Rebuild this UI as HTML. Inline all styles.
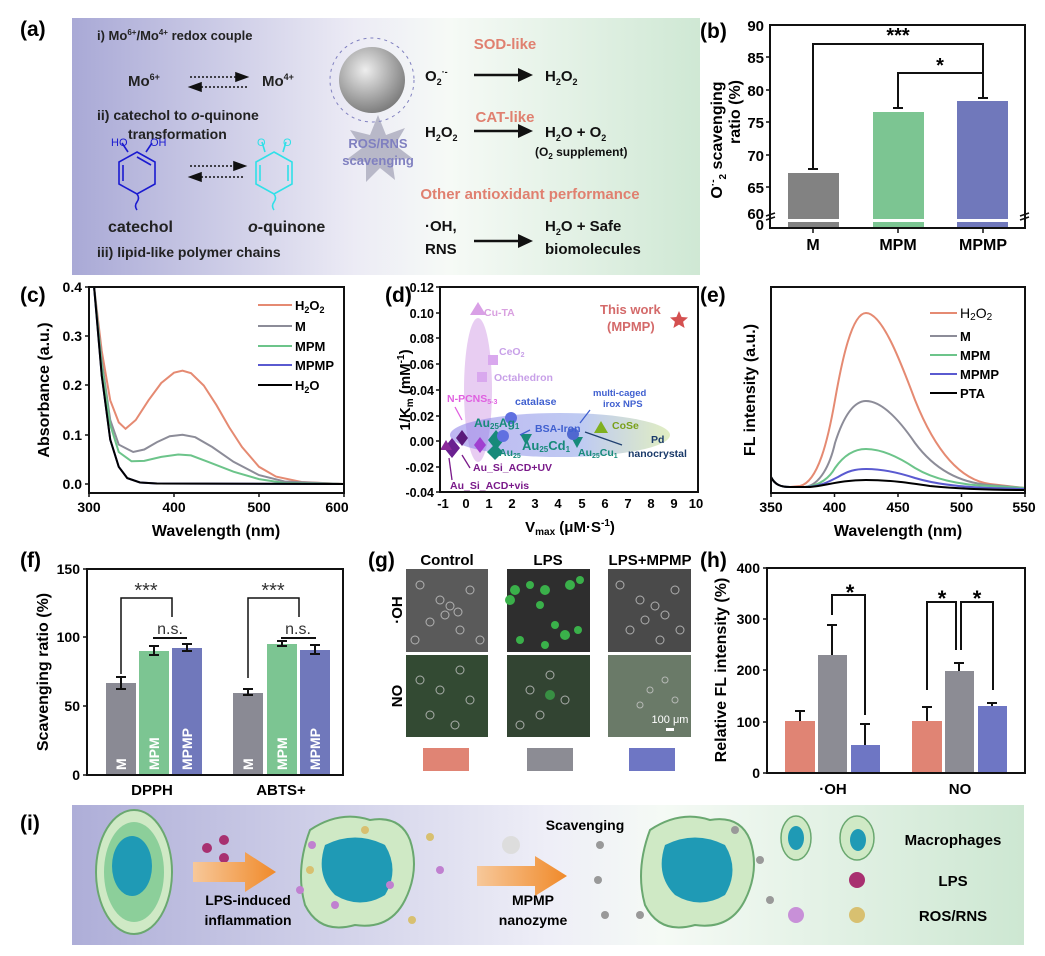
<!DOCTYPE html>
<html><head><meta charset="utf-8"><style>
html,body{margin:0;padding:0;background:#fff;}
svg{display:block;font-family:"Liberation Sans",Arial,sans-serif;}
.b{font-weight:bold;}
</style></head><body>
<svg width="1045" height="956" viewBox="0 0 1045 956" xmlns="http://www.w3.org/2000/svg">
<defs>
<linearGradient id="ga" x1="0" x2="1" y1="0" y2="0">
<stop offset="0" stop-color="#a9a9d6"/><stop offset="0.45" stop-color="#ecebf5"/><stop offset="0.6" stop-color="#f6faf6"/><stop offset="1" stop-color="#cfe8d4"/></linearGradient>
<linearGradient id="gi" x1="0" x2="1" y1="0" y2="0">
<stop offset="0" stop-color="#aeaed8"/><stop offset="0.5" stop-color="#eeeef7"/><stop offset="0.62" stop-color="#f5faf5"/><stop offset="1" stop-color="#cde7d2"/></linearGradient>
<linearGradient id="gd" x1="0" x2="1"><stop offset="0" stop-color="#8a7ae8"/><stop offset="0.6" stop-color="#8aa0e8"/><stop offset="1" stop-color="#c8e090"/></linearGradient>
<radialGradient id="gs" cx="0.4" cy="0.35" r="0.7"><stop offset="0" stop-color="#eee"/><stop offset="1" stop-color="#777"/></radialGradient>
<linearGradient id="gar" x1="0" x2="1"><stop offset="0" stop-color="#f7c89a"/><stop offset="1" stop-color="#f08a2a"/></linearGradient>
</defs>

<!-- panel labels -->
<g class="b" font-size="21">
<text x="20" y="36">(a)</text><text x="700" y="38">(b)</text>
<text x="20" y="302">(c)</text><text x="385" y="302">(d)</text><text x="700" y="302">(e)</text>
<text x="20" y="567">(f)</text><text x="368" y="567">(g)</text><text x="700" y="567">(h)</text>
<text x="20" y="830">(i)</text>
</g>

<!-- (a) -->
<rect x="72" y="18" width="628" height="257" fill="url(#ga)"/>
<g font-size="13" class="b" fill="#222">
<text x="97" y="40">i) Mo<tspan font-size="8" dy="-5">6+</tspan><tspan dy="5">/Mo</tspan><tspan font-size="8" dy="-5">4+</tspan><tspan dy="5"> redox couple</tspan></text>
<text x="128" y="86" font-size="15">Mo<tspan font-size="9" dy="-6">6+</tspan></text>
<text x="262" y="86" font-size="15">Mo<tspan font-size="9" dy="-6">4+</tspan></text>
<text x="97" y="120" font-size="14">ii) catechol to <tspan font-style="italic">o</tspan>-quinone</text>
<text x="128" y="139" font-size="14">transformation</text>
<text x="108" y="232" font-size="16">catechol</text>
<text x="248" y="232" font-size="16"><tspan font-style="italic">o</tspan>-quinone</text>
<text x="97" y="257" font-size="14">iii) lipid-like polymer chains</text>
</g>
<g stroke="#111" stroke-width="1.6" fill="none">
<line x1="190" y1="77" x2="240" y2="77" stroke-dasharray="2,2"/><path d="M236,73 L247,77 L236,81Z" fill="#111"/>
<line x1="197" y1="87" x2="247" y2="87" stroke-dasharray="2,2"/><path d="M201,83 L190,87 L201,91Z" fill="#111"/>
<line x1="190" y1="166" x2="238" y2="166" stroke-dasharray="2,2"/><path d="M234,162 L245,166 L234,170Z" fill="#111"/>
<line x1="197" y1="177" x2="245" y2="177" stroke-dasharray="2,2"/><path d="M201,173 L190,177 L201,181Z" fill="#111"/>
</g>
<g fill="none" stroke="#1a1ad0" stroke-width="1.6">
<polygon points="137,152 155,162 155,184 137,194 119,184 119,162"/>
<line x1="123" y1="165" x2="123" y2="181"/><line x1="137" y1="157" x2="151" y2="165"/>
<line x1="128" y1="152" x2="122" y2="143"/><line x1="146" y1="152" x2="152" y2="143"/>
<path d="M137,194 q3,4 0,8 q-3,4 0,8"/></g>
<text x="111" y="146" font-size="11" fill="#1a1ad0">HO</text><text x="150" y="146" font-size="11" fill="#1a1ad0">OH</text>
<g fill="none" stroke="#30e0e8" stroke-width="1.6">
<polygon points="274,152 292,162 292,184 274,194 256,184 256,162"/>
<line x1="260" y1="165" x2="260" y2="181"/><line x1="288" y1="165" x2="288" y2="181"/>
<line x1="265" y1="152" x2="262" y2="142"/><line x1="283" y1="152" x2="286" y2="142"/>
<path d="M274,194 q3,4 0,8 q-3,4 0,8"/></g>
<text x="257" y="146" font-size="11" fill="#30e0e8">O</text><text x="283" y="146" font-size="11" fill="#30e0e8">O</text>
<polygon points="378,115 386,135 405,128 395,145 412,158 392,160 395,180 380,168 366,182 366,162 346,160 362,148 350,130 370,135" fill="#b8b8c8"/>
<circle cx="372" cy="80" r="42" fill="none" stroke="#8080c0" stroke-width="1" stroke-dasharray="3,4"/>
<circle cx="372" cy="80" r="33" fill="url(#gs)"/>
<text x="378" y="148" font-size="13" class="b" fill="#8080c0" text-anchor="middle">ROS/RNS</text>
<text x="378" y="165" font-size="13" class="b" fill="#8080c0" text-anchor="middle">scavenging</text>
<g class="b" font-size="15" fill="#e08070" text-anchor="middle">
<text x="505" y="49">SOD-like</text><text x="505" y="122">CAT-like</text><text x="530" y="199">Other antioxidant performance</text></g>
<g font-size="15" class="b" fill="#111">
<text x="425" y="81">O<tspan font-size="9" dy="4">2</tspan><tspan font-size="9" dy="-10">·-</tspan></text>
<text x="545" y="81">H<tspan font-size="9" dy="4">2</tspan><tspan dy="-4">O</tspan><tspan font-size="9" dy="4">2</tspan></text>
<text x="425" y="137">H<tspan font-size="9" dy="4">2</tspan><tspan dy="-4">O</tspan><tspan font-size="9" dy="4">2</tspan></text>
<text x="545" y="137">H<tspan font-size="9" dy="4">2</tspan><tspan dy="-4">O + O</tspan><tspan font-size="9" dy="4">2</tspan></text>
<text x="535" y="156" font-size="12">(O<tspan font-size="8" dy="3">2</tspan><tspan dy="-3"> supplement)</tspan></text>
<text x="425" y="231">·OH,</text><text x="425" y="254">RNS</text>
<text x="545" y="231">H<tspan font-size="9" dy="4">2</tspan><tspan dy="-4">O + Safe</tspan></text>
<text x="545" y="254">biomolecules</text></g>
<g stroke="#111" stroke-width="2.5"><line x1="474" y1="75" x2="520" y2="75"/><line x1="474" y1="131" x2="520" y2="131"/><line x1="474" y1="241" x2="520" y2="241"/></g>
<g fill="#111"><path d="M518,68 L533,75 L518,82Z"/><path d="M518,124 L533,131 L518,138Z"/><path d="M518,234 L533,241 L518,248Z"/></g>

<!-- (b) -->
<g>
<rect x="788" y="173" width="51" height="46" fill="#828282"/><rect x="788" y="222" width="51" height="6" fill="#828282"/>
<rect x="873" y="112" width="51" height="107" fill="#7cc592"/><rect x="873" y="222" width="51" height="6" fill="#7cc592"/>
<rect x="957" y="101" width="51" height="118" fill="#7078bb"/><rect x="957" y="222" width="51" height="6" fill="#7078bb"/>
<g stroke="#111" stroke-width="2" fill="none">
<path d="M808,169 h10 M813,169 v-3 M893,108 h10 M898,108 v-2 M978,98 h10 M983,98 v-2"/>
<rect x="770" y="25" width="255" height="203"/>
<path d="M813,166 V44 H983 V96"/><path d="M898,106 V73 H983"/>
</g>
<g stroke="#111" stroke-width="1.5"><line x1="766" y1="57" x2="770" y2="57"/><line x1="766" y1="90" x2="770" y2="90"/><line x1="766" y1="122" x2="770" y2="122"/><line x1="766" y1="155" x2="770" y2="155"/><line x1="766" y1="187" x2="770" y2="187"/>
<line x1="766" y1="216" x2="775" y2="213"/><line x1="766" y1="220" x2="775" y2="217"/><line x1="1020" y1="216" x2="1029" y2="213"/><line x1="1020" y1="220" x2="1029" y2="217"/>
<line x1="813" y1="228" x2="813" y2="233"/><line x1="898" y1="228" x2="898" y2="233"/><line x1="983" y1="228" x2="983" y2="233"/></g>
<g class="b" font-size="15" text-anchor="end"><text x="764" y="31">90</text><text x="764" y="63">85</text><text x="764" y="96">80</text><text x="764" y="128">75</text><text x="764" y="161">70</text><text x="764" y="193">65</text><text x="764" y="219">60</text><text x="764" y="230">0</text></g>
<g class="b" font-size="16" text-anchor="middle"><text x="813" y="250">M</text><text x="898" y="250">MPM</text><text x="983" y="250">MPMP</text>
<text x="898" y="42" font-size="20">***</text><text x="940" y="72" font-size="20">*</text></g>
<text class="b" font-size="16" text-anchor="middle" transform="translate(722,140) rotate(-90)">O<tspan font-size="10" dy="-6">·-</tspan><tspan font-size="10" dy="10">2</tspan><tspan dy="-4"> scavenging</tspan></text>
<text class="b" font-size="16" text-anchor="middle" transform="translate(740,112) rotate(-90)">ratio (%)</text>
</g>

<!-- (c) -->
<g>
<g fill="none" stroke-width="2">
<polyline stroke="#e58a72" points="94.1,287 101.75,351 110.25,400.3 118.75,422.4 125.55,428.8 135.75,420 148.5,400.3 161.25,383 174,372.7 182.5,370.7 191,373.2 203.75,385.5 216.5,405.2 229.25,427.4 242,447 259,466.8 276,476.6 301.5,482 344,484"/>
<polyline stroke="#8c8c98" points="94.1,287 101.75,360.9 110.25,420 118.75,444.6 133.2,452 144.25,449.5 157,442.1 169.75,436.2 182.5,434.75 195.25,437.2 212.25,447 233.5,461.8 259,475.1 284.5,481.5 344,484"/>
<polyline stroke="#6cc48a" points="94.1,287 101.75,365.8 110.25,424.9 118.75,452 131.5,461.3 144.25,460.9 161.25,456.9 178.25,454.5 191,455.4 208,461.8 233.5,471.7 259,479.1 284.5,483 344,484"/>
<polyline stroke="#5a5ad0" points="94.1,287 101.75,375.6 110.25,439.7 118.75,466.8 127.25,478.1 140,482.5 157,483.5 344,484"/>
<polyline stroke="#000" points="94.1,287 101.75,375.6 110.25,439.7 118.75,466.8 127.25,478.1 140,482.5 157,483.5 344,484"/>
</g>
<rect x="89" y="287" width="255" height="206" fill="none" stroke="#111" stroke-width="2"/>
<g stroke="#111" stroke-width="1.5"><line x1="85" y1="287" x2="89" y2="287"/><line x1="85" y1="336" x2="89" y2="336"/><line x1="85" y1="385" x2="89" y2="385"/><line x1="85" y1="435" x2="89" y2="435"/><line x1="85" y1="484" x2="89" y2="484"/>
<line x1="89" y1="493" x2="89" y2="497"/><line x1="174" y1="493" x2="174" y2="497"/><line x1="259" y1="493" x2="259" y2="497"/><line x1="344" y1="493" x2="344" y2="497"/></g>
<g class="b" font-size="14" text-anchor="end"><text x="82" y="292">0.4</text><text x="82" y="341">0.3</text><text x="82" y="390">0.2</text><text x="82" y="440">0.1</text><text x="82" y="489">0.0</text></g>
<g class="b" font-size="14" text-anchor="middle"><text x="89" y="512">300</text><text x="174" y="512">400</text><text x="259" y="512">500</text><text x="337" y="512">600</text></g>
<text class="b" font-size="16" x="216" y="536" text-anchor="middle">Wavelength (nm)</text>
<text class="b" font-size="16" text-anchor="middle" transform="translate(49,390) rotate(-90)">Absorbance (a.u.)</text>
<g stroke-width="2"><line x1="258" y1="305" x2="292" y2="305" stroke="#e58a72"/><line x1="258" y1="326" x2="292" y2="326" stroke="#8c8c98"/><line x1="258" y1="346" x2="292" y2="346" stroke="#6cc48a"/><line x1="258" y1="365" x2="292" y2="365" stroke="#5a5ad0"/><line x1="258" y1="385" x2="292" y2="385" stroke="#000"/></g>
<g class="b" font-size="13"><text x="295" y="310">H<tspan font-size="9" dy="3">2</tspan><tspan dy="-3">O</tspan><tspan font-size="9" dy="3">2</tspan></text><text x="295" y="331">M</text><text x="295" y="351">MPM</text><text x="295" y="370">MPMP</text><text x="295" y="390">H<tspan font-size="9" dy="3">2</tspan><tspan dy="-3">O</tspan></text></g>
</g>

<!-- (d) -->
<g>
<ellipse cx="478" cy="390" rx="14" ry="72" fill="#d6a4e8" opacity="0.55"/>
<ellipse cx="560" cy="435" rx="110" ry="22" fill="url(#gd)" opacity="0.55"/>
<polygon points="478,302 486,315 470,315" fill="#d9a0e6"/>
<rect x="488" y="355" width="10" height="10" fill="#d9a8ee"/>
<rect x="477" y="372" width="10" height="10" fill="#d9a8ee"/>
<polygon points="462,430 468,438 462,446 456,438" fill="#5a1a7a"/>
<polygon points="452,438 460,448 452,458 444,448" fill="#6a2090"/>
<polygon points="446,440 452,450 440,450" fill="#8a2a9a"/>
<polygon points="480,437 486,445 480,453 474,445" fill="#a040d0"/>
<polygon points="496,430 504,440 496,450 488,440" fill="#178a7a"/>
<polygon points="495,444 503,452 495,460 487,452" fill="#178a7a"/>
<polygon points="520,434 532,434 526,445" fill="#178a7a"/>
<polygon points="571,437 583,437 577,448" fill="#178a7a"/>
<circle cx="511" cy="418" r="6" fill="#6070e0"/><circle cx="503" cy="436" r="6" fill="#6070e0"/><circle cx="573" cy="434" r="6" fill="#5068d0"/>
<polygon points="601,421 608,433 594,433" fill="#80b020"/>
<path d="M679,311 l2.6,6 6.4,0.5 -4.9,4.2 1.5,6.3 -5.6,-3.4 -5.6,3.4 1.5,-6.3 -4.9,-4.2 6.4,-0.5z" fill="#d45050"/>
<g stroke-width="1.3" fill="none"><path d="M455,407 L462,420" stroke="#e060e0"/><path d="M530,430 L520,435" stroke="#4060d0"/><path d="M590,410 L580,423" stroke="#4060d0"/><path d="M622,445 L585,432" stroke="#204070"/><path d="M470,468 L462,455" stroke="#7a1a8a"/><path d="M452,480 L449,458" stroke="#7a1a8a"/></g>
<g font-size="10.5" class="b">
<text x="484" y="316" fill="#d9a0e0">Cu-TA</text>
<text x="499" y="355" fill="#c8a0e8">CeO<tspan font-size="7" dy="2">2</tspan></text>
<text x="494" y="381" fill="#c8a0e8">Octahedron</text>
<text x="447" y="402" fill="#e060e0">N-PCNS<tspan font-size="7" dy="2">5-3</tspan></text>
<text x="515" y="405" fill="#4060d0">catalase</text>
<text x="535" y="432" fill="#4060d0">BSA-Iron</text>
<text x="474" y="427" fill="#178a7a" font-size="12">Au<tspan font-size="8" dy="2">25</tspan><tspan dy="-2">Ag</tspan><tspan font-size="8" dy="2">1</tspan></text>
<text x="522" y="450" fill="#178a7a" font-size="13">Au<tspan font-size="8" dy="2">25</tspan><tspan dy="-2">Cd</tspan><tspan font-size="8" dy="2">1</tspan></text>
<text x="499" y="456" fill="#178a7a">Au<tspan font-size="7" dy="2">25</tspan></text>
<text x="578" y="456" fill="#178a7a">Au<tspan font-size="7" dy="2">25</tspan><tspan dy="-2">Cu</tspan><tspan font-size="7" dy="2">1</tspan></text>
<text x="593" y="396" fill="#4060d0" font-size="9.5">multi-caged</text><text x="603" y="407" fill="#4060d0" font-size="9.5">irox NPS</text>
<text x="612" y="429" fill="#7aa01a">CoSe</text>
<text x="651" y="443" fill="#1a3a6a">Pd</text><text x="628" y="457" fill="#1a3a6a">nanocrystal</text>
<text x="473" y="471" fill="#7a1a8a">Au_Si_ACD+UV</text>
<text x="450" y="489" fill="#7a1a8a">Au_Si_ACD+vis</text>
<text x="600" y="314" fill="#d46a6a" font-size="13">This work</text>
<text x="607" y="331" fill="#d46a6a" font-size="13">(MPMP)</text>
</g>
<rect x="440" y="287" width="258" height="205" fill="none" stroke="#111" stroke-width="2"/>
<g stroke="#111" stroke-width="1.5">
<line x1="436" y1="287" x2="440" y2="287"/><line x1="436" y1="313" x2="440" y2="313"/><line x1="436" y1="338" x2="440" y2="338"/><line x1="436" y1="364" x2="440" y2="364"/><line x1="436" y1="390" x2="440" y2="390"/><line x1="436" y1="416" x2="440" y2="416"/><line x1="436" y1="441" x2="440" y2="441"/><line x1="436" y1="467" x2="440" y2="467"/><line x1="436" y1="492" x2="440" y2="492"/>
</g>
<g class="b" font-size="12.5" text-anchor="end"><text x="434" y="292">0.12</text><text x="434" y="318">0.10</text><text x="434" y="343">0.08</text><text x="434" y="369">0.06</text><text x="434" y="395">0.04</text><text x="434" y="421">0.02</text><text x="434" y="446">0.00</text><text x="434" y="472">-0.02</text><text x="434" y="497">-0.04</text></g>
<g class="b" font-size="13" text-anchor="middle"><text x="443" y="508">-1</text><text x="466" y="508">0</text><text x="489" y="508">1</text><text x="512" y="508">2</text><text x="535" y="508">3</text><text x="558" y="508">4</text><text x="582" y="508">5</text><text x="605" y="508">6</text><text x="628" y="508">7</text><text x="651" y="508">8</text><text x="674" y="508">9</text><text x="696" y="508">10</text></g>
<text class="b" font-size="15" x="570" y="532" text-anchor="middle">V<tspan font-size="10" dy="3">max</tspan><tspan dy="-3"> (μM·S</tspan><tspan font-size="10" dy="-6">-1</tspan><tspan dy="6">)</tspan></text>
<text class="b" font-size="15" text-anchor="middle" transform="translate(410,390) rotate(-90)">1/K<tspan font-size="10" dy="3">m</tspan><tspan dy="-3"> (mM</tspan><tspan font-size="10" dy="-6">-1</tspan><tspan dy="6">)</tspan></text>
</g>

<!-- (e) -->
<g>
<g fill="none" stroke-width="2">
<path d="M771,477 C775,485 781,487 790,487 L800,486 C818,482 828,440 835,400 C842,360 852,313 866,313 C882,313 900,360 915,400 C935,450 960,480 990,484 L1025,488" stroke="#e58a72"/>
<path d="M771,477 C775,485 781,487 790,487 L805,487 C820,485 830,465 835,443 C842,421 852,401 866,401 C882,401 900,421 915,443 C935,470 960,483 990,485 L1025,488" stroke="#8c8c98"/>
<path d="M771,477 C775,485 781,487 790,487 L805,487 C820,486 830,477 835,468 C842,458 852,449 866,449 C882,449 900,458 915,468 C935,480 960,485 990,486 L1025,488" stroke="#6cc48a"/>
<path d="M771,477 C775,485 781,487 790,487 L805,487 C820,487 830,481 838,477 C848,471 855,469 866,469 C882,469 900,473 915,478 C935,484 960,487 990,488 L1025,489" stroke="#5a5ad0"/>
<path d="M771,477 C775,485 781,487 790,487 L810,487 C825,486 840,480 866,480 C890,480 910,483 930,486 C960,489 990,490 1025,490" stroke="#000"/>
</g>
<rect x="771" y="287" width="254" height="206" fill="none" stroke="#111" stroke-width="2"/>
<g stroke="#111" stroke-width="1.5"><line x1="771" y1="493" x2="771" y2="497"/><line x1="834.5" y1="493" x2="834.5" y2="497"/><line x1="898" y1="493" x2="898" y2="497"/><line x1="961.5" y1="493" x2="961.5" y2="497"/><line x1="1025" y1="493" x2="1025" y2="497"/></g>
<g class="b" font-size="14" text-anchor="middle"><text x="771" y="512">350</text><text x="834.5" y="512">400</text><text x="898" y="512">450</text><text x="961.5" y="512">500</text><text x="1024" y="512">550</text></g>
<text class="b" font-size="16" x="898" y="536" text-anchor="middle">Wavelength (nm)</text>
<text class="b" font-size="16" text-anchor="middle" transform="translate(755,390) rotate(-90)">FL intensity (a.u.)</text>
<g stroke-width="2"><line x1="930" y1="313" x2="957" y2="313" stroke="#e58a72"/><line x1="930" y1="336" x2="957" y2="336" stroke="#8c8c98"/><line x1="930" y1="355" x2="957" y2="355" stroke="#6cc48a"/><line x1="930" y1="374" x2="957" y2="374" stroke="#5a5ad0"/><line x1="930" y1="393" x2="957" y2="393" stroke="#000"/></g>
<g class="b" font-size="13"><text x="960" y="318" font-weight="normal" font-size="14">H<tspan font-size="10" dy="2">2</tspan><tspan dy="-2">O</tspan><tspan font-size="10" dy="2">2</tspan></text><text x="960" y="341">M</text><text x="960" y="360">MPM</text><text x="960" y="379">MPMP</text><text x="960" y="398">PTA</text></g>
</g>

<!-- (f) -->
<g>
<rect x="106" y="683" width="30" height="92" fill="#8a8a94"/><rect x="139" y="651" width="30" height="124" fill="#7cc592"/><rect x="172" y="648" width="30" height="127" fill="#7078bb"/>
<rect x="233" y="693" width="30" height="82" fill="#8a8a94"/><rect x="267" y="644" width="30" height="131" fill="#7cc592"/><rect x="300" y="650" width="30" height="125" fill="#7078bb"/>
<g stroke="#111" stroke-width="2" fill="none">
<path d="M121,677 v12 M116,677 h10 M116,689 h10 M154,646 v9 M149,646 h10 M149,655 h10 M187,644 v7 M182,644 h10 M182,651 h10 M248,689 v6 M243,689 h10 M243,695 h10 M282,641 v5 M277,641 h10 M277,646 h10 M315,645 v9 M310,645 h10 M310,654 h10"/>
<path d="M121,674 V598 H172 V617" stroke-width="1.5"/><path d="M248,678 V598 H299 V617" stroke-width="1.5"/>
<line x1="153" y1="638" x2="187" y2="638"/><line x1="281" y1="638" x2="316" y2="638"/>
<rect x="87" y="569" width="256" height="206"/></g>
<g stroke="#111" stroke-width="1.5"><line x1="83" y1="569" x2="87" y2="569"/><line x1="83" y1="637" x2="87" y2="637"/><line x1="83" y1="706" x2="87" y2="706"/><line x1="83" y1="775" x2="87" y2="775"/></g>
<g class="b" font-size="14" text-anchor="end"><text x="80" y="574">150</text><text x="80" y="642">100</text><text x="80" y="711">50</text><text x="80" y="780">0</text></g>
<g font-size="20" text-anchor="middle" fill="#333"><text x="146" y="597">***</text><text x="273" y="597">***</text><text x="170" y="634" font-size="16">n.s.</text><text x="298" y="634" font-size="16">n.s.</text></g>
<g class="b" font-size="14" fill="#fff"><text transform="translate(126,770) rotate(-90)">M</text><text transform="translate(159,770) rotate(-90)">MPM</text><text transform="translate(192,770) rotate(-90)">MPMP</text><text transform="translate(253,770) rotate(-90)">M</text><text transform="translate(287,770) rotate(-90)">MPM</text><text transform="translate(320,770) rotate(-90)">MPMP</text></g>
<g class="b" font-size="15" text-anchor="middle"><text x="152" y="795">DPPH</text><text x="281" y="795">ABTS+</text></g>
<text class="b" font-size="16" text-anchor="middle" transform="translate(48,672) rotate(-90)">Scavenging ratio (%)</text>
</g>

<!-- (g) -->
<g>
<g class="b" font-size="15" text-anchor="middle"><text x="447" y="565">Control</text><text x="548" y="565">LPS</text><text x="650" y="565">LPS+MPMP</text></g>
<text class="b" font-size="15" text-anchor="middle" transform="translate(402,610) rotate(-90)">·OH</text>
<text class="b" font-size="15" text-anchor="middle" transform="translate(402,696) rotate(-90)">NO</text>
<rect x="406" y="569" width="82" height="83" fill="#5a5a5a"/>
<rect x="507" y="569" width="83" height="83" fill="#2e2e2e"/>
<rect x="608" y="569" width="83" height="83" fill="#4a4a4a"/>
<rect x="406" y="655" width="82" height="82" fill="#334a33"/>
<rect x="507" y="655" width="83" height="82" fill="#324432"/>
<rect x="608" y="655" width="83" height="82" fill="#6a7a68"/>
<g fill="none" stroke="#c8c8c8" stroke-width="1" opacity="0.8">
<circle cx="440" cy="600" r="4"/><circle cx="450" cy="606" r="4"/><circle cx="445" cy="615" r="4"/><circle cx="458" cy="612" r="4"/><circle cx="430" cy="622" r="4"/><circle cx="420" cy="585" r="4"/><circle cx="470" cy="590" r="4"/><circle cx="460" cy="630" r="4"/><circle cx="415" cy="640" r="4"/><circle cx="480" cy="640" r="4"/>
<circle cx="640" cy="600" r="4"/><circle cx="655" cy="606" r="4"/><circle cx="645" cy="620" r="4"/><circle cx="665" cy="615" r="4"/><circle cx="630" cy="630" r="4"/><circle cx="620" cy="585" r="4"/><circle cx="675" cy="590" r="4"/><circle cx="680" cy="630" r="4"/><circle cx="660" cy="640" r="4"/>
<circle cx="420" cy="680" r="4"/><circle cx="440" cy="690" r="4"/><circle cx="460" cy="670" r="4"/><circle cx="470" cy="700" r="4"/><circle cx="430" cy="715" r="4"/><circle cx="455" cy="725" r="4"/>
<circle cx="530" cy="690" r="4"/><circle cx="550" cy="675" r="4"/><circle cx="565" cy="700" r="4"/><circle cx="540" cy="715" r="4"/><circle cx="520" cy="725" r="4"/>
<circle cx="650" cy="690" r="3"/><circle cx="665" cy="680" r="3"/><circle cx="640" cy="705" r="3"/><circle cx="675" cy="700" r="3"/></g>
<g fill="#3ab04a"><circle cx="515" cy="590" r="5"/><circle cx="530" cy="585" r="4"/><circle cx="545" cy="590" r="5"/><circle cx="570" cy="585" r="5"/><circle cx="580" cy="580" r="4"/><circle cx="540" cy="605" r="4"/><circle cx="510" cy="600" r="5"/><circle cx="555" cy="625" r="4"/><circle cx="565" cy="635" r="5"/><circle cx="578" cy="630" r="4"/><circle cx="520" cy="640" r="4"/><circle cx="545" cy="645" r="4"/><circle cx="550" cy="695" r="5" opacity="0.7"/></g>
<text x="670" y="723" font-size="11" fill="#fff" text-anchor="middle">100 μm</text>
<rect x="666" y="728" width="8" height="3" fill="#fff"/>
<rect x="423" y="748" width="46" height="23" fill="#e08474"/><rect x="527" y="748" width="46" height="23" fill="#8c8c94"/><rect x="629" y="748" width="46" height="23" fill="#6e76c4"/>
</g>

<!-- (h) -->
<g>
<rect x="785" y="721" width="30" height="52" fill="#e08474"/><rect x="818" y="655" width="29" height="118" fill="#8c8c94"/><rect x="851" y="745" width="29" height="28" fill="#6e76c4"/>
<rect x="912" y="721" width="30" height="52" fill="#e08474"/><rect x="945" y="671" width="29" height="102" fill="#8c8c94"/><rect x="978" y="706" width="29" height="67" fill="#6e76c4"/>
<g stroke="#111" stroke-width="2" fill="none">
<path d="M800,721 V711 M795,711 h10 M832,655 V625 M827,625 h10 M865,745 V724 M860,724 h10 M927,721 V707 M922,707 h10 M959,671 V663 M954,663 h10 M992,706 V703 M987,703 h10"/>
<path d="M832,615 V595 H865 V715"/>
<path d="M927,690 V602 H956 V650 M961,650 V602 H993 V690"/>
<rect x="767" y="568" width="258" height="205"/></g>
<g stroke="#111" stroke-width="1.5"><line x1="763" y1="568" x2="767" y2="568"/><line x1="763" y1="619" x2="767" y2="619"/><line x1="763" y1="670" x2="767" y2="670"/><line x1="763" y1="722" x2="767" y2="722"/><line x1="763" y1="773" x2="767" y2="773"/></g>
<g class="b" font-size="14" text-anchor="end"><text x="760" y="573">400</text><text x="760" y="624">300</text><text x="760" y="675">200</text><text x="760" y="727">100</text><text x="760" y="778">0</text></g>
<g font-size="22" class="b" text-anchor="middle"><text x="850" y="600">*</text><text x="942" y="606">*</text><text x="977" y="606">*</text></g>
<g class="b" font-size="15" text-anchor="middle"><text x="833" y="794">·OH</text><text x="960" y="794">NO</text></g>
<text class="b" font-size="16" text-anchor="middle" transform="translate(726,670) rotate(-90)">Relative FL intensity (%)</text>
</g>

<!-- (i) -->
<rect x="72" y="805" width="952" height="140" fill="url(#gi)"/>
<ellipse cx="134" cy="872" rx="38" ry="62" fill="#cfe9c5" stroke="#6aa870" stroke-width="2"/>
<ellipse cx="134" cy="872" rx="30" ry="50" fill="#8ccf9a"/>
<ellipse cx="132" cy="866" rx="20" ry="30" fill="#1f9ab5"/>
<g fill="#a83070"><circle cx="207" cy="848" r="5"/><circle cx="224" cy="840" r="5"/><circle cx="224" cy="858" r="5"/></g>
<polygon points="193,862 245,862 245,852 276,872 245,892 245,882 193,882" fill="url(#gar)"/>
<text class="b" font-size="14" x="248" y="905" text-anchor="middle">LPS-induced</text>
<text class="b" font-size="14" x="248" y="925" text-anchor="middle">inflammation</text>
<path d="M310,830 Q340,810 370,820 Q400,815 410,840 Q420,870 405,900 Q390,930 355,925 Q320,935 305,905 Q295,870 310,830Z" fill="#cfe9c5" stroke="#6aa870" stroke-width="2"/>
<path d="M325,845 Q355,830 385,845 Q400,870 385,895 Q360,910 335,895 Q315,875 325,845Z" fill="#1f9ab5"/>
<g fill="#c080d0"><circle cx="312" cy="845" r="4"/><circle cx="300" cy="890" r="4"/><circle cx="440" cy="870" r="4"/><circle cx="335" cy="905" r="4"/><circle cx="390" cy="885" r="4"/></g>
<g fill="#d8c070"><circle cx="430" cy="837" r="4"/><circle cx="412" cy="920" r="4"/><circle cx="310" cy="870" r="4"/><circle cx="365" cy="830" r="4"/></g>
<circle cx="511" cy="845" r="9" fill="#ddd"/>
<polygon points="477,866 535,866 535,856 567,876 535,896 535,886 477,886" fill="url(#gar)"/>
<text class="b" font-size="14" x="533" y="905" text-anchor="middle">MPMP</text>
<text class="b" font-size="14" x="533" y="925" text-anchor="middle">nanozyme</text>
<text class="b" font-size="14" x="585" y="830" text-anchor="middle">Scavenging</text>
<path d="M650,830 Q680,810 710,820 Q740,815 750,840 Q760,870 745,900 Q730,930 695,925 Q660,935 645,905 Q635,870 650,830Z" fill="#cfe9c5" stroke="#6aa870" stroke-width="2"/>
<path d="M665,845 Q695,830 725,845 Q740,870 725,895 Q700,910 675,895 Q655,875 665,845Z" fill="#1f9ab5"/>
<g fill="#999"><circle cx="600" cy="845" r="4"/><circle cx="598" cy="880" r="4"/><circle cx="605" cy="915" r="4"/><circle cx="760" cy="860" r="4"/><circle cx="770" cy="900" r="4"/><circle cx="640" cy="915" r="4"/><circle cx="735" cy="830" r="4"/></g>
<ellipse cx="796" cy="838" rx="15" ry="22" fill="#cfe9c5" stroke="#6aa870" stroke-width="1.5"/><ellipse cx="796" cy="838" rx="8" ry="12" fill="#1f9ab5"/>
<ellipse cx="857" cy="838" rx="17" ry="22" fill="#cfe9c5" stroke="#6aa870" stroke-width="1.5"/><ellipse cx="858" cy="840" rx="8" ry="11" fill="#1f9ab5"/>
<circle cx="857" cy="880" r="8" fill="#a83070"/>
<circle cx="796" cy="915" r="8" fill="#c890d8"/><circle cx="857" cy="915" r="8" fill="#d8c070"/>
<g class="b" font-size="15" text-anchor="middle"><text x="953" y="845">Macrophages</text><text x="953" y="886">LPS</text><text x="953" y="921">ROS/RNS</text></g>
</svg>
</body></html>
